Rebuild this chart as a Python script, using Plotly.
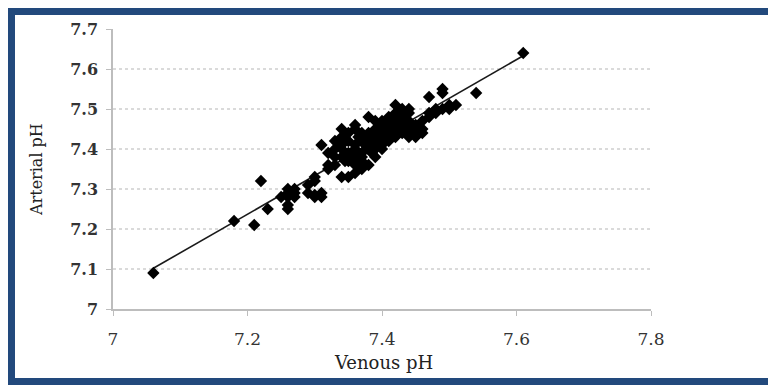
import numpy as np
import plotly.graph_objects as go

# ---- data ----
venous_ph = [
    7.06, 7.18, 7.21, 7.22, 7.23,
    7.25, 7.26, 7.26, 7.26, 7.26, 7.26, 7.27, 7.27, 7.27,
    7.29, 7.29, 7.30, 7.30, 7.30, 7.31, 7.31, 7.31, 7.30,
    7.32, 7.32, 7.33, 7.33, 7.33, 7.34, 7.34, 7.34, 7.34, 7.34, 7.34,
    7.35, 7.35, 7.35, 7.35, 7.35, 7.36, 7.36, 7.36, 7.36, 7.36, 7.36, 7.36,
    7.37, 7.37, 7.37, 7.37, 7.37, 7.37, 7.38, 7.38, 7.38, 7.38, 7.38, 7.38,
    7.39, 7.39, 7.39, 7.39, 7.39, 7.39, 7.40, 7.40, 7.40, 7.40, 7.40, 7.40, 7.40,
    7.41, 7.41, 7.41, 7.41, 7.41, 7.41, 7.42, 7.42, 7.42, 7.42, 7.42, 7.42,
    7.43, 7.43, 7.43, 7.43, 7.43, 7.43, 7.44, 7.44, 7.44, 7.44, 7.44, 7.44,
    7.45, 7.45, 7.45, 7.45, 7.46, 7.46, 7.46, 7.47, 7.47, 7.47, 7.48, 7.48,
    7.49, 7.49, 7.49, 7.50, 7.50, 7.51, 7.54, 7.61,
    7.32, 7.33, 7.345, 7.355, 7.365, 7.375, 7.385, 7.395,
]
arterial_ph = [
    7.09, 7.22, 7.21, 7.32, 7.25,
    7.28, 7.25, 7.26, 7.28, 7.29, 7.30, 7.29, 7.28, 7.30,
    7.29, 7.31, 7.28, 7.33, 7.32, 7.29, 7.28, 7.41, 7.285,
    7.36, 7.35, 7.36, 7.40, 7.42, 7.45, 7.33, 7.38, 7.40, 7.41, 7.43,
    7.33, 7.37, 7.39, 7.42, 7.44, 7.34, 7.36, 7.38, 7.40, 7.41, 7.46, 7.45,
    7.35, 7.37, 7.39, 7.42, 7.44, 7.38, 7.36, 7.40, 7.41, 7.43, 7.44, 7.48,
    7.38, 7.40, 7.42, 7.44, 7.45, 7.47, 7.40, 7.41, 7.43, 7.44, 7.45, 7.47, 7.46,
    7.42, 7.43, 7.44, 7.45, 7.46, 7.48, 7.43, 7.44, 7.45, 7.47, 7.49, 7.51,
    7.44, 7.45, 7.46, 7.48, 7.50, 7.49, 7.43, 7.44, 7.45, 7.47, 7.50, 7.49,
    7.43, 7.44, 7.46, 7.45, 7.45, 7.44, 7.47, 7.48, 7.49, 7.53, 7.50, 7.49,
    7.50, 7.55, 7.54, 7.51, 7.50, 7.51, 7.54, 7.64,
    7.39, 7.38, 7.37, 7.39, 7.43, 7.41, 7.39, 7.42,
]
x_ticks = [7.0, 7.2, 7.4, 7.6, 7.8]
x_tick_labels = ["7", "7.2", "7.4", "7.6", "7.8"]
y_ticks = [7.0, 7.1, 7.2, 7.3, 7.4, 7.5, 7.6, 7.7]
y_tick_labels = ["7", "7.1", "7.2", "7.3", "7.4", "7.5", "7.6", "7.7"]
x_title = "Venous pH"
y_title = "Arterial pH"

# ---- layout geometry ----
W, H = 768, 385
ML, MR, MT, MB = 113, 117, 29, 76
PW, PH = W - ML - MR, H - MT - MB


def px_x(p):
    return (p - ML) / PW


def px_y(p):
    return (H - MB - p) / PH


xv = np.array(venous_ph)
yv = np.array(arterial_ph)
slope, intercept = np.polyfit(xv, yv, 1)
line_x = np.array([xv.min(), xv.max()])
line_y = slope * line_x + intercept

fig = go.Figure()
fig.add_trace(go.Scatter(
    x=line_x, y=line_y, mode="lines",
    line=dict(color="#1a1a1a", width=1.6), hoverinfo="skip", showlegend=False,
))
fig.add_trace(go.Scatter(
    x=venous_ph, y=arterial_ph, mode="markers",
    marker=dict(symbol="diamond", size=9.5, color="black"),
    showlegend=False,
))

shapes = []
# dotted horizontal gridlines (interior ticks only)
for v in y_ticks[1:-1]:
    shapes.append(dict(type="line", xref="paper", x0=0, x1=1, yref="y", y0=v, y1=v,
                       line=dict(color="#b5b5b5", width=1, dash="dot"), layer="below"))
# blue frame around the picture
blue = "#22497c"
shapes.append(dict(type="rect", xref="paper", yref="paper", x0=px_x(8), x1=px_x(W + 5),
                   y0=px_y(8), y1=px_y(15), fillcolor=blue, line=dict(width=0)))
shapes.append(dict(type="rect", xref="paper", yref="paper", x0=px_x(8), x1=px_x(15),
                   y0=px_y(8), y1=px_y(H + 5), fillcolor=blue, line=dict(width=0)))
shapes.append(dict(type="rect", xref="paper", yref="paper", x0=px_x(8), x1=px_x(W + 5),
                   y0=px_y(378), y1=px_y(H + 5), fillcolor=blue, line=dict(width=0)))

serif = "DejaVu Serif, Liberation Serif, serif"
annotations = [
    dict(text=x_title, xref="paper", yref="paper", x=px_x(383), y=px_y(362),
         showarrow=False, xanchor="center", yanchor="middle",
         font=dict(family=serif, size=18, color="#222222")),
    dict(text=y_title, xref="paper", yref="paper", x=px_x(36), y=px_y(170),
         showarrow=False, xanchor="center", yanchor="middle", textangle=-90,
         font=dict(family=serif, size=16, color="#222222")),
]

fig.update_layout(
    width=W, height=H,
    margin=dict(l=ML, r=MR, t=MT, b=MB),
    paper_bgcolor="white", plot_bgcolor="white",
    font=dict(family=serif, color="#222222"),
    shapes=shapes,
    annotations=annotations,
    xaxis=dict(
        range=[7.0, 7.8], tickvals=x_ticks, ticktext=x_tick_labels,
        showgrid=False, zeroline=False,
        showline=True, linecolor="#bdbdbd", linewidth=1.5,
        ticks="outside", ticklen=5, tickcolor="#bdbdbd",
        ticklabelstandoff=9,
        tickfont=dict(family=serif, size=17, color="#333333"),
    ),
    yaxis=dict(
        range=[7.0, 7.7], tickvals=y_ticks, ticktext=y_tick_labels,
        showgrid=False, zeroline=False,
        showline=True, linecolor="#bdbdbd", linewidth=1.5,
        ticks="outside", ticklen=5, tickcolor="#bdbdbd",
        ticklabelstandoff=5,
        tickfont=dict(family=serif, size=16, color="#333333", weight="bold"),
    ),
)

fig.write_html("out.html", config={"displayModeBar": False},
               post_script="document.body.style.margin='0';")
